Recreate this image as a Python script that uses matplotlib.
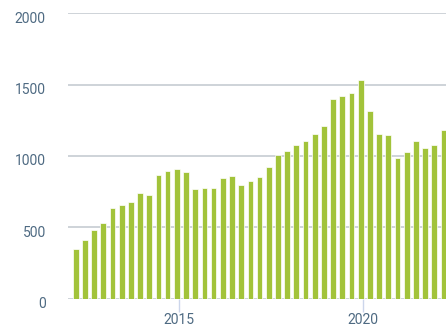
import numpy as np
import matplotlib
matplotlib.use("Agg")
import matplotlib.pyplot as plt
from matplotlib.transforms import ScaledTranslation

plt.rcParams['font.family'] = ['Roboto', 'DejaVu Sans']

# quarterly values, Q1 2012 .. Q1 2022
values = [350, 411, 481, 530, 638, 659, 678, 739,
          729, 869, 895, 907, 886, 767, 776, 776,
          846, 858, 797, 827, 855, 925, 1007, 1035,
          1075, 1105, 1154, 1213, 1401, 1423, 1441, 1530,
          1313, 1154, 1144, 984, 1026, 1105, 1056, 1075,
          1182]
first_year = 2012
year_ticks = [2015, 2020]
y_ticks = [0, 500, 1000, 1500, 2000]

x = first_year + 0.19 + 0.25 * np.arange(len(values))

text_col = '#4e6a82'
grid_col = '#c6ccd2'
tick_col = '#ccd6eb'
bar_col = '#a2c33a'

fig = plt.figure(figsize=(4.46, 3.32), dpi=100)
ax = fig.add_axes([68 / 446, 0.1003, 1 - 68 / 446, 0.96 - 0.1003])

ax.bar(x, values, width=0.155, color=bar_col, edgecolor='white',
       linewidth=0.5, zorder=2)

ax.set_xlim(2011.98, 2022.26)
ax.set_ylim(0, 2000)
ax.set_yticks(y_ticks)
ax.set_xticks(year_ticks)
ax.set_xticklabels([str(y) for y in year_ticks])

ax.grid(axis='y', color=grid_col, linewidth=1.2, zorder=0)
ax.set_axisbelow(True)
for s in ax.spines.values():
    s.set_visible(False)

ax.tick_params(axis='y', length=0, pad=16, labelsize=10, labelcolor=text_col)
ax.tick_params(axis='x', length=9, width=1, color=tick_col, pad=1.5,
               labelsize=10, labelcolor=text_col)

# nudge the value labels a little below their grid lines
off = ScaledTranslation(0, -4 / 100, fig.dpi_scale_trans)
for lab in ax.get_yticklabels():
    lab.set_transform(lab.get_transform() + off)

fig.savefig('out.png', dpi=100)
